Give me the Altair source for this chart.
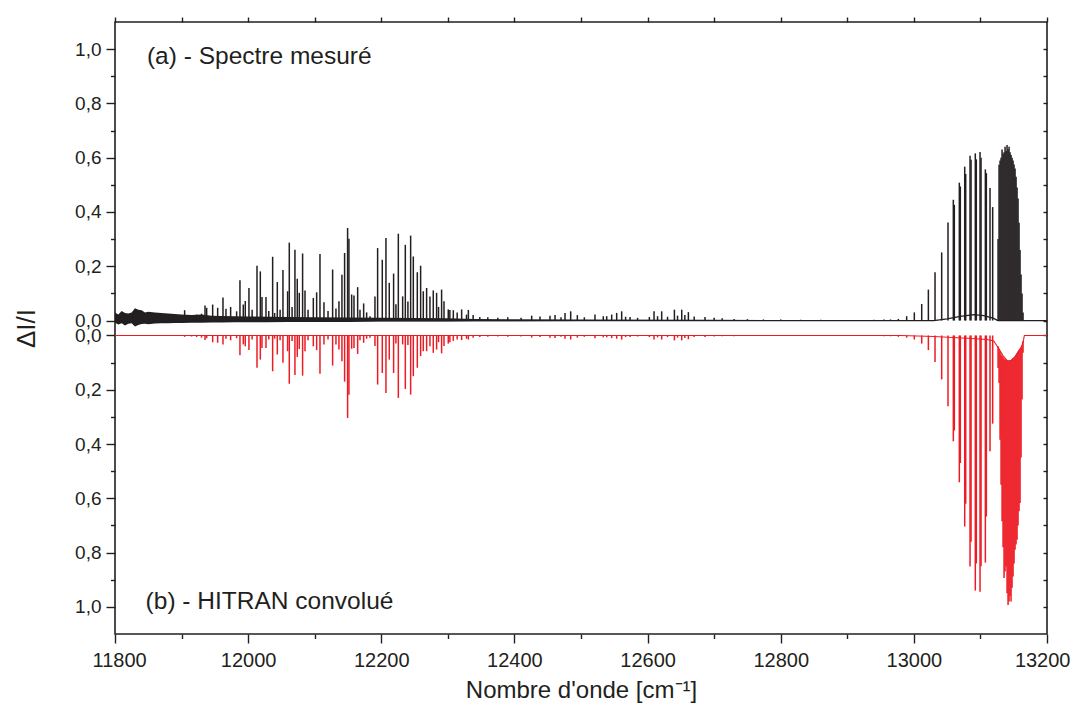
import altair as alt
import pandas as pd

# ---------------- data ----------------
# (a) measured spectrum (black) and (b) convolved HITRAN (red), region 11900-12330 cm-1
a_wn = [
    11904.6, 11915.0, 11922.6, 11930.0, 11935.2, 11937.7, 11946.7, 11954.2, 11962.2, 11966.7,
    11973.7, 11982.7, 11987.7, 11992.7, 11995.7, 12001.2, 12006.0, 12013.3, 12018.3, 12020.8,
    12026.8, 12031.0, 12036.8, 12039.8, 12043.8, 12048.0, 12052.3, 12059.3, 12061.8, 12066.0,
    12070.3, 12073.8, 12076.8, 12081.8, 12085.4, 12090.0, 12097.9, 12102.9, 12107.9, 12113.9,
    12120.0, 12126.9, 12131.9, 12136.4, 12140.9, 12144.9, 12149.4, 12151.4, 12155.5, 12159.0,
    12164.5, 12168.0, 12173.5, 12178.0, 12183.0, 12190.5, 12194.5, 12201.5, 12207.0, 12212.0,
    12218.5, 12222.0, 12225.6, 12232.1, 12236.1, 12240.0, 12244.1, 12248.1, 12254.1, 12259.1,
    12263.1, 12268.1, 12273.1, 12278.1, 12283.1, 12286.0, 12290.6, 12294.2, 12300.6, 12303.0,
    12308.2, 12314.0, 12320.7, 12328.0, 12330.8]
a_meas = [
    0.038, 0.020, 0.022, 0.025, 0.055, 0.047, 0.059, 0.047, 0.085, 0.043,
    0.050, 0.034, 0.148, 0.059, 0.072, 0.120, 0.040, 0.202, 0.181, 0.087,
    0.087, 0.035, 0.235, 0.028, 0.142, 0.040, 0.186, 0.108, 0.287, 0.050,
    0.261, 0.154, 0.102, 0.247, 0.111, 0.040, 0.083, 0.104, 0.245, 0.067,
    0.035, 0.188, 0.044, 0.071, 0.169, 0.249, 0.341, 0.301, 0.096, 0.092,
    0.123, 0.040, 0.063, 0.030, 0.016, 0.089, 0.267, 0.224, 0.304, 0.139,
    0.173, 0.060, 0.320, 0.089, 0.279, 0.070, 0.313, 0.236, 0.178, 0.202,
    0.108, 0.120, 0.089, 0.111, 0.102, 0.050, 0.114, 0.071, 0.041, 0.039,
    0.038, 0.030, 0.041, 0.022, 0.039]
a_hitran = [
    0.005, 0.004, 0.006, 0.008, 0.017, 0.010, 0.025, 0.027, 0.033, 0.012,
    0.018, 0.010, 0.073, 0.033, 0.040, 0.054, 0.015, 0.119, 0.089, 0.046,
    0.046, 0.015, 0.132, 0.012, 0.070, 0.018, 0.101, 0.058, 0.178, 0.020,
    0.146, 0.079, 0.050, 0.148, 0.058, 0.018, 0.040, 0.054, 0.141, 0.033,
    0.015, 0.111, 0.033, 0.052, 0.095, 0.170, 0.304, 0.218, 0.049, 0.046,
    0.068, 0.018, 0.027, 0.012, 0.008, 0.039, 0.181, 0.138, 0.212, 0.089,
    0.138, 0.030, 0.230, 0.033, 0.197, 0.035, 0.218, 0.150, 0.119, 0.076,
    0.058, 0.058, 0.040, 0.064, 0.052, 0.025, 0.066, 0.039, 0.030, 0.025,
    0.020, 0.015, 0.017, 0.012, 0.015]

# weak lines 12330-12860 cm-1
w_wn = [
    12338.0, 12348.0, 12360.0, 12375.0, 12390.0, 12410.0, 12425.9, 12438.4, 12453.4, 12461.0,
    12470.0, 12476.0, 12484.5, 12494.5, 12505.0, 12521.0, 12533.5, 12538.6, 12546.1, 12553.6,
    12561.1, 12567.0, 12573.7, 12585.0, 12602.7, 12609.7, 12615.0, 12621.2, 12630.0, 12640.3,
    12645.0, 12651.3, 12656.0, 12661.3, 12670.0, 12686.3, 12700.0, 12712.0, 12730.0, 12750.0,
    12774.0, 12800.0, 12830.0, 12860.0]
w_meas = [
    0.020, 0.013, 0.012, 0.010, 0.012, 0.010, 0.018, 0.015, 0.018, 0.020,
    0.012, 0.028, 0.034, 0.020, 0.012, 0.022, 0.016, 0.016, 0.022, 0.028,
    0.034, 0.014, 0.013, 0.010, 0.013, 0.034, 0.016, 0.034, 0.014, 0.040,
    0.018, 0.040, 0.020, 0.031, 0.015, 0.013, 0.010, 0.008, 0.006, 0.005,
    0.004, 0.004, 0.003, 0.003]
w_hitran = [
    0.008, 0.006, 0.005, 0.004, 0.005, 0.004, 0.008, 0.006, 0.008, 0.009,
    0.005, 0.012, 0.015, 0.008, 0.005, 0.010, 0.007, 0.007, 0.010, 0.012,
    0.015, 0.006, 0.006, 0.004, 0.006, 0.015, 0.007, 0.015, 0.006, 0.018,
    0.008, 0.018, 0.009, 0.014, 0.006, 0.006, 0.004, 0.003, 0.003, 0.002,
    0.002, 0.002, 0.001, 0.001]

# band lines 12940-13120 cm-1
b_wn = [
    12940.0, 12955.0, 12965.0, 12976.7, 12989.2, 13000.7, 13011.8, 13021.8, 13031.8, 13041.8,
    13051.3, 13059.3, 13060.8, 13068.3, 13069.8, 13076.4, 13077.9, 13084.4, 13085.9, 13092.3,
    13093.8, 13099.4, 13100.9, 13107.4, 13108.9, 13114.4, 13118.4]
b_meas = [
    0.003, 0.004, 0.004, 0.006, 0.016, 0.030, 0.061, 0.114, 0.178, 0.251,
    0.361, 0.445, 0.426, 0.508, 0.494, 0.567, 0.540, 0.607, 0.592, 0.616,
    0.594, 0.621, 0.600, 0.557, 0.543, 0.488, 0.418]
b_hitran = [
    0.002, 0.003, 0.003, 0.005, 0.008, 0.015, 0.030, 0.054, 0.098, 0.162,
    0.261, 0.390, 0.350, 0.541, 0.470, 0.704, 0.620, 0.851, 0.760, 0.940,
    0.840, 0.944, 0.850, 0.837, 0.667, 0.427, 0.325]

# band head 13126-13164 cm-1
h_wn = [
    13126.5, 13128.0, 13129.5, 13131.0, 13132.5, 13134.0, 13135.5, 13137.0, 13138.5, 13140.0,
    13141.5, 13143.0, 13144.5, 13146.0, 13147.5, 13149.0, 13150.5, 13152.0, 13153.5, 13155.0,
    13156.5, 13158.0, 13159.5, 13161.0, 13162.5, 13164.0]
h_meas = [
    0.300, 0.574, 0.590, 0.600, 0.630, 0.615, 0.620, 0.640, 0.625, 0.647,
    0.630, 0.640, 0.620, 0.610, 0.600, 0.590, 0.575, 0.560, 0.530, 0.490,
    0.450, 0.360, 0.260, 0.170, 0.100, 0.030]
h_hitran = [
    0.120, 0.175, 0.384, 0.550, 0.685, 0.780, 0.894, 0.870, 0.851, 0.950,
    0.993, 0.980, 0.960, 0.980, 0.930, 0.888, 0.840, 0.790, 0.770, 0.753,
    0.700, 0.648, 0.617, 0.450, 0.236, 0.064]
h_hitran_cont = [
    0.040, 0.050, 0.060, 0.070, 0.075, 0.080, 0.085, 0.088, 0.090, 0.092,
    0.093, 0.093, 0.092, 0.090, 0.088, 0.085, 0.082, 0.078, 0.072, 0.066,
    0.060, 0.055, 0.050, 0.045, 0.035, 0.020]

# baselines
meas_base_wn = [11800, 13030, 13050, 13070, 13090, 13105, 13120, 13126, 13200]
meas_base_v = [0.0, 0.0, 0.006, 0.015, 0.022, 0.018, 0.008, 0.0, 0.0]
hit_base_wn = [11800, 12980, 13030, 13080, 13110, 13120, 13124, 13128, 13134, 13140,
               13146, 13152, 13158, 13162, 13164.5, 13166, 13200]
hit_base_v = [0.0, 0.0, 0.004, 0.010, 0.015, 0.020, 0.035, 0.050, 0.075, 0.092,
              0.093, 0.078, 0.055, 0.040, 0.020, 0.0, 0.0]

# measurement noise envelope
noise_wn = [11800, 11805, 11810, 11815, 11820, 11825, 11830, 11835, 11840, 11845,
            11850, 11860, 11870, 11880, 11890, 11900, 11915, 11930, 11945, 11960,
            11980, 12000, 12030, 12060, 12100, 12150, 12200, 12250, 12300, 12340,
            12400, 12500, 12700, 12800]
noise_hi = [0.030, 0.022, 0.035, 0.028, 0.026, 0.030, 0.045, 0.040, 0.038, 0.030,
            0.032, 0.030, 0.028, 0.026, 0.024, 0.022, 0.020, 0.022, 0.018, 0.017,
            0.016, 0.015, 0.014, 0.013, 0.012, 0.011, 0.010, 0.009, 0.008, 0.006,
            0.005, 0.004, 0.003, 0.002]
noise_lo = [-0.008, -0.015, -0.010, -0.018, -0.012, -0.010, -0.022, -0.016, -0.013, -0.012,
            -0.014, -0.011, -0.010, -0.010, -0.009, -0.009, -0.008, -0.008, -0.007, -0.007,
            -0.006, -0.006, -0.006, -0.005, -0.005, -0.005, -0.004, -0.004, -0.004, -0.003,
            -0.003, -0.002, -0.002, -0.001]

# ticks and labels
x_ticks = [11800, 12000, 12200, 12400, 12600, 12800, 13000, 13200]
x_minor = [11900, 12100, 12300, 12500, 12700, 12900, 13100]
y_ticks = [0.0, 0.2, 0.4, 0.6, 0.8, 1.0]
y_minor = [0.1, 0.3, 0.5, 0.7, 0.9]

ann_text = ["(a) - Spectre mesuré", "(b) - HITRAN convolué"]
ann_wn = [11848, 11846]
ann_v = [0.971, 0.982]
ann_panel = ["a", "b"]

# ---------------- layout ----------------
OFF = 0.055          # gap between the two panels, in axis units
W, H = 932, 612
INK = "#231f20"
RED = "#ed1c24"
FONT = "Liberation Sans"
X_DOM = [11800, 13200]
Y_DOM = [-1.1, 1.1 + OFF]

def top(v):
    return v + OFF

def bot(v):
    return -v

xs = alt.Scale(domain=X_DOM, nice=False, zero=False)
ys = alt.Scale(domain=Y_DOM, nice=False, zero=False)

# ---------------- tables ----------------
meas_wn = a_wn + w_wn + b_wn + h_wn
meas_v = a_meas + w_meas + b_meas + h_meas
meas_df = pd.DataFrame({"wn": meas_wn, "v": meas_v})
meas_df["c0"] = top(0.0)
meas_df["c1"] = meas_df["v"].map(top)

hit_df = pd.DataFrame({"wn": a_wn + w_wn + b_wn, "v": a_hitran + w_hitran + b_hitran})
hit_df["c0"] = bot(0.0)
hit_df["c1"] = hit_df["v"].map(bot)
head_df = pd.DataFrame({"wn": h_wn, "v": h_hitran, "b": h_hitran_cont})
head_df["c0"] = head_df["b"].map(bot)
head_df["c1"] = head_df["v"].map(bot)
hit_df = pd.concat([hit_df[["wn", "c0", "c1"]], head_df[["wn", "c0", "c1"]]], ignore_index=True)

noise_df = pd.DataFrame({"wn": noise_wn,
                         "hi": [top(v) for v in noise_hi],
                         "lo": [top(v) for v in noise_lo]})
mbase_df = pd.DataFrame({"wn": meas_base_wn, "c": [top(v) for v in meas_base_v]})
hbase_df = pd.DataFrame({"wn": hit_base_wn, "c": [bot(v) for v in hit_base_v]})
ann_df = pd.DataFrame({"t": ann_text, "wn": ann_wn,
                       "c": [top(v) if p == "a" else bot(v) for v, p in zip(ann_v, ann_panel)]})

# ---------------- axes ----------------
y_major_vals = [top(v) for v in y_ticks] + [bot(v) for v in y_ticks]
y_minor_vals = [top(v) for v in y_minor] + [bot(v) for v in y_minor]
y_all_vals = sorted(y_major_vals + y_minor_vals)
x_all_vals = sorted(x_ticks + x_minor)

label_expr = ("replace(format(datum.value > 0.03 ? datum.value - %s : abs(datum.value), '.1f'), '.', ',')"
              % OFF)

ax_x_major = alt.Axis(orient="bottom", values=x_ticks, format="d", tickSize=9, labelPadding=7,
                      labelFlush=True, labelFlushOffset=23, labelOverlap=False,
                      title="Nombre d'onde [cm⁻¹]", titlePadding=8, titleFontSize=24,
                      domain=False, grid=False, labelFontSize=20)
ax_x_minor = alt.Axis(orient="bottom", values=x_minor, tickSize=4.5, labels=False,
                      domain=False, grid=False, title=None)
ax_x_top = alt.Axis(orient="top", values=x_all_vals, tickSize=5, labels=False,
                    domain=False, grid=False, title=None)
ax_y_major = alt.Axis(orient="left", values=y_major_vals, labelExpr=label_expr, tickSize=9,
                      labelPadding=5, labelOverlap=False, labelFlush=False,
                      title="ΔI/I", titleFontSize=26, titlePadding=35,
                      domain=False, grid=False, labelFontSize=19)
ax_y_minor = alt.Axis(orient="left", values=y_minor_vals, tickSize=4.5, labels=False,
                      domain=False, grid=False, title=None)
ax_y_right = alt.Axis(orient="left", offset=-W, values=y_all_vals, tickSize=4, labels=False,
                      domain=False, grid=False, title=None)

# ---------------- marks ----------------
noise = alt.Chart(noise_df).mark_area(color=INK, opacity=1).encode(
    x=alt.X("wn:Q", scale=xs, axis=None),
    y=alt.Y("hi:Q", scale=ys, axis=None),
    y2="lo:Q",
)
mbase = alt.Chart(mbase_df).mark_line(color=INK, strokeWidth=1.3).encode(
    x=alt.X("wn:Q", scale=xs, axis=ax_x_top),
    y=alt.Y("c:Q", scale=ys, axis=ax_y_right),
)
mlines = alt.Chart(meas_df).mark_rule(color=INK, strokeWidth=1.5).encode(
    x=alt.X("wn:Q", scale=xs, axis=ax_x_major),
    y=alt.Y("c0:Q", scale=ys, axis=ax_y_major),
    y2="c1:Q",
)
hbase = alt.Chart(hbase_df).mark_line(color=RED, strokeWidth=1.1).encode(
    x=alt.X("wn:Q", scale=xs, axis=None),
    y=alt.Y("c:Q", scale=ys, axis=None),
)
hlines = alt.Chart(hit_df).mark_rule(color=RED, strokeWidth=1.5).encode(
    x=alt.X("wn:Q", scale=xs, axis=ax_x_minor),
    y=alt.Y("c0:Q", scale=ys, axis=ax_y_minor),
    y2="c1:Q",
)
ann = alt.Chart(ann_df).mark_text(align="left", baseline="middle", font=FONT,
                                  fontSize=24.5, color=INK).encode(
    x=alt.X("wn:Q", scale=xs, axis=None),
    y=alt.Y("c:Q", scale=ys, axis=None),
    text="t:N",
)

chart = (
    alt.layer(noise, mbase, mlines, hbase, hlines, ann)
    .resolve_scale(x="independent", y="independent")
    .properties(
        width=W, height=H,
        autosize=alt.AutoSizeParams(type="none"),
        padding={"left": 107, "top": 14, "right": 23, "bottom": 74},
        background="white",
    )
    .configure_view(stroke=INK, strokeWidth=1.6)
    .configure_axis(labelFont=FONT, titleFont=FONT, labelColor=INK, titleColor=INK,
                    tickColor=INK, tickWidth=1.4, titleFontWeight="normal")
)

chart.save("out.html", embed_options={"renderer": "svg", "actions": False})
